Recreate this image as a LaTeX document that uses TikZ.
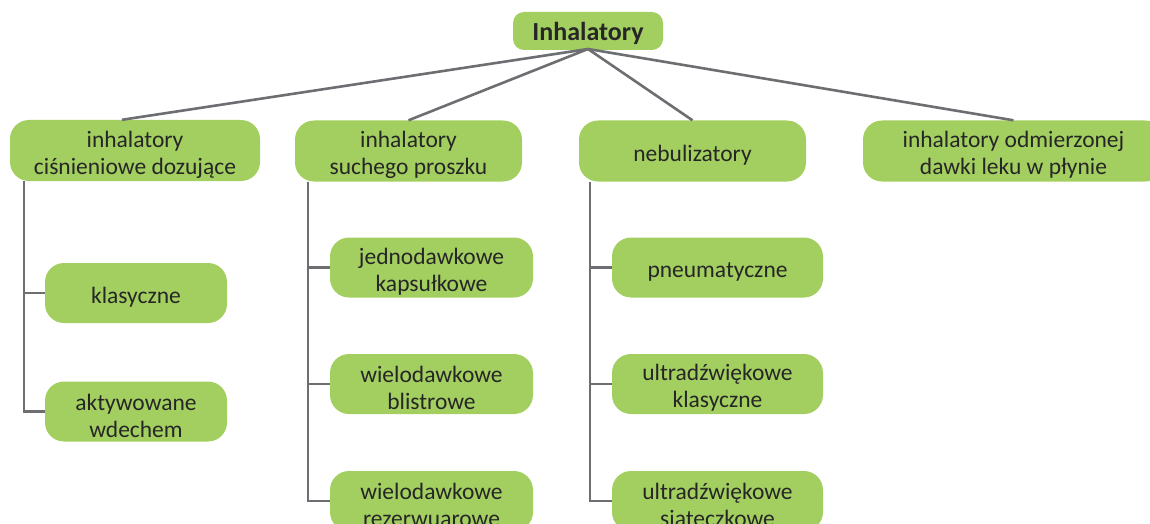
\documentclass[tikz,border=0pt]{standalone}
\usepackage{fontspec}
\setmainfont{Carlito}
\definecolor{boxgreen}{HTML}{A3CF60}
\definecolor{linegray}{HTML}{6D6E71}
\definecolor{txt}{HTML}{262626}
\tikzset{
  gbox/.style={fill=boxgreen, rounded corners=19pt, inner sep=0pt, minimum height=60pt},
  tx/.style={align=center, text=txt, inner sep=0pt,
    font=\fontsize{23.5}{27}\selectfont, yshift=-4pt},
  rootbox/.style={fill=boxgreen, rounded corners=11pt, inner sep=0pt,
    minimum width=150pt, minimum height=38pt},
  roottx/.style={text=txt, inner sep=0pt, font=\fontsize{26}{30}\selectfont\bfseries, yshift=-2pt},
  conn/.style={draw=linegray, line width=2.6pt},
}
\begin{document}
\begin{tikzpicture}[x=1pt,y=-1pt]
\useasboundingbox (0,0) rectangle (1150,524);
\clip (0,0) rectangle (1150,524);
% root
\node[rootbox, label={[roottx]center:Inhalatory}] (root) at (588,31) {};
% level 1
\node[gbox, minimum width=250pt, minimum height=61pt, label={[tx]center:{inhalatory\\ciśnieniowe dozujące}}] (c1) at (135,150.5) {};
\node[gbox, minimum width=227pt, minimum height=61pt, label={[tx]center:{inhalatory\\suchego proszku}}] (c2) at (408.5,151) {};
\node[gbox, minimum width=227pt, minimum height=61pt, label={[tx]center:{nebulizatory}}] (c3) at (692.5,151) {};
\node[gbox, minimum width=301pt, minimum height=61pt, label={[tx]center:{inhalatory odmierzonej\\dawki leku w płynie}}] (c4) at (1013.5,151) {};
% level 2
\node[gbox, minimum width=182pt, label={[tx]center:{klasyczne}}] (k1) at (136,293) {};
\node[gbox, minimum width=182pt, label={[tx]center:{aktywowane\\wdechem}}] (k2) at (136,411.5) {};
\node[gbox, minimum width=203pt, label={[tx]center:{jednodawkowe\\kapsułkowe}}] (d1) at (431.5,267.5) {};
\node[gbox, minimum width=203pt, label={[tx]center:{wielodawkowe\\blistrowe}}] (d2) at (431.5,384) {};
\node[gbox, minimum width=203pt, label={[tx]center:{wielodawkowe\\rezerwuarowe}}] (d3) at (431.5,501) {};
\node[gbox, minimum width=211pt, label={[tx]center:{pneumatyczne}}] (n1) at (717.5,267.5) {};
\node[gbox, minimum width=211pt, label={[tx]center:{ultradźwiękowe\\klasyczne}}] (n2) at (717.5,384) {};
\node[gbox, minimum width=211pt, label={[tx]center:{ultradźwiękowe\\siateczkowe}}] (n3) at (717.5,501) {};
% connectors from root
\coordinate (rb) at (588,49);
\coordinate (t1) at (122,0);
\draw[conn] (rb) -- (c1.north -| t1);
\draw[conn] (rb) -- (c2.north);
\draw[conn] (rb) -- (c3.north);
\draw[conn] (rb) -- (c4.north);
% column trunks
\coordinate (v1) at (24,0);
\coordinate (v2) at (308,0);
\coordinate (v3) at (590,0);
\draw[conn] (c1.south -| v1) |- (k2.west);
\draw[conn] (k1.west -| v1) -- (k1.west);
\draw[conn] (c2.south -| v2) |- (d3.west);
\draw[conn] (d1.west -| v2) -- (d1.west);
\draw[conn] (d2.west -| v2) -- (d2.west);
\draw[conn] (c3.south -| v3) |- (n3.west);
\draw[conn] (n1.west -| v3) -- (n1.west);
\draw[conn] (n2.west -| v3) -- (n2.west);
\end{tikzpicture}
\end{document}
